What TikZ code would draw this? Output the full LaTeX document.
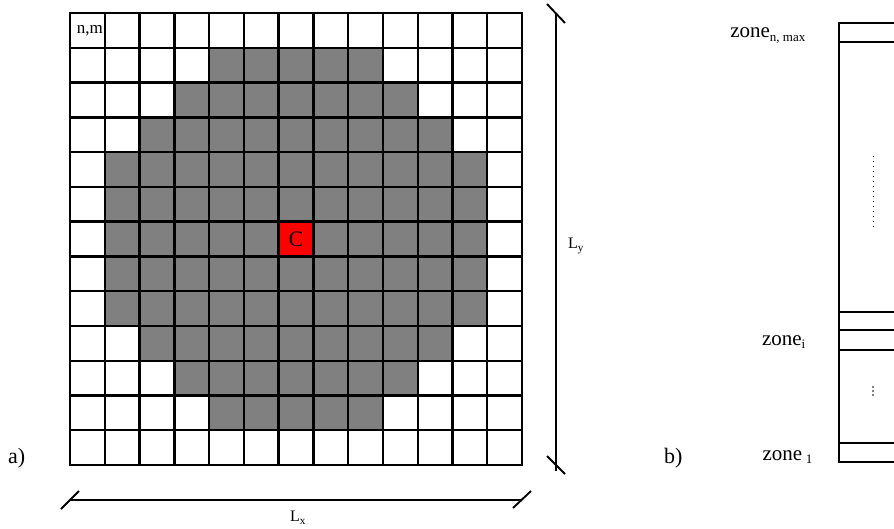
\documentclass[tikz,border=0pt]{standalone}
\usepackage{fontspec}
\setmainfont{Liberation Serif}
\newcommand{\zsub}[1]{\textsubscript{\fontsize{13}{14}\selectfont #1}}
\begin{document}
\begin{tikzpicture}[x=1pt,y=-1pt,
  gridline/.style={line width=2.4pt,line cap=rect},
  dimline/.style={line width=1.9pt},
  zoneline/.style={line width=1.4pt},
  lab/.style={inner sep=0pt,font=\fontsize{21}{25}\selectfont},
  small/.style={inner sep=0pt,font=\fontsize{16}{18}\selectfont}]
\useasboundingbox (0,0) rectangle (894,529);
\def\s{34.77}
% gray cells
\foreach \r/\a/\b in {1/4/8,2/3/9,3/2/10,4/1/11,5/1/11,6/1/11,7/1/11,8/1/11,9/2/10,10/3/9,11/4/8}{
  \fill[gray] ({70+\a*\s},{13+\r*\s}) rectangle ({70+(\b+1)*\s},{13+(\r+1)*\s});
}
% red cell
\fill[red] ({70+6*\s},{13+6*\s}) rectangle ({70+7*\s},{13+7*\s});
% grid lines
\foreach \i in {0,...,13}{
  \draw[gridline] ({70+\i*\s},13) -- ({70+\i*\s},465);
  \draw[gridline] (70,{13+\i*\s}) -- (522,{13+\i*\s});
}
\node[inner sep=0pt,font=\fontsize{22}{26}\selectfont] (c) at ({70+6.5*\s},{13+6.5*\s}) {C};
\node[inner sep=0pt,anchor=east,font=\fontsize{17}{20}\selectfont] (nm) at (103,31) {n,m};
% Ly dimension
\coordinate (lyt) at (556,13);
\coordinate (lyb) at (556,471);
\draw[dimline] (lyt) -- (lyb);
\draw[dimline] (547,4) -- (565,23);
\draw[dimline] (547,456) -- (565,474);
\node[small] (ly) at (576,246) {L\textsubscript{y}};
% Lx dimension
\coordinate (lxl) at (70,500);
\coordinate (lxr) at (522,500);
\draw[dimline] (lxl) -- (lxr);
\draw[dimline] (61,509) -- (79,491);
\draw[dimline] (513,508) -- (531,491);
\node[small] (lx) at (298,518) {L\textsubscript{x}};
\node[inner sep=0pt,font=\fontsize{22}{26}\selectfont,anchor=base west] (a) at (8,463) {a)};
\node[inner sep=0pt,font=\fontsize{22}{26}\selectfont,anchor=base west] (b) at (664,463) {b)};
% panel b
\draw[zoneline] (894,23) -- (839,23) -- (839,462) -- (894,462);
\foreach \yy in {42,312,330,350,443}{
  \draw[zoneline] (839,\yy) -- (894,\yy);
}
\draw[line width=1pt,dash pattern=on 1pt off 4pt] (873,156) -- (873,230);
\foreach \yy in {387,391,395}{
  \fill (873,\yy) circle (0.9);
}
\node[lab,anchor=base east] (zn) at (806,38) {zone\zsub{n, max}};
\node[lab,anchor=base east] (zi) at (806,345) {zone\zsub{i}};
\node[lab,anchor=base east] (z1) at (813,460) {zone\,\zsub{1}};
\end{tikzpicture}
\end{document}
